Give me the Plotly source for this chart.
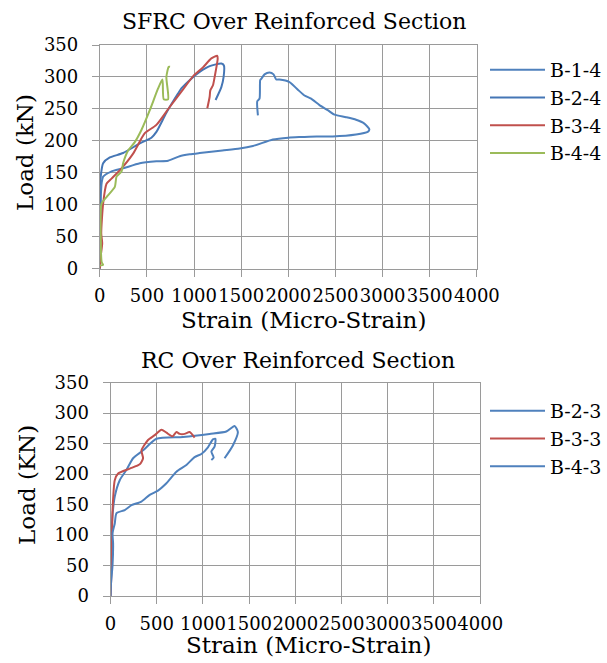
import plotly.graph_objects as go

# ---- SFRC Over Reinforced Section ----
b14_x = [0, 5, 10, 20, 35, 120, 247, 424, 600, 724, 847, 953, 1059, 1300, 1483, 1624, 1836, 2000, 2118, 2300, 2471, 2718, 2842, 2859, 2806, 2718, 2612, 2489, 2418, 2330, 2241, 2171, 2101, 2012, 1906, 1871, 1843, 1800, 1747, 1712, 1701, 1694, 1670, 1677]
b14_y = [0, 60, 110, 135, 144, 152, 157, 165, 168, 169, 176, 179, 181, 185, 188, 192, 202, 205, 206, 207, 207, 210, 214, 218, 227, 233, 237, 241, 248, 256, 266, 271, 280, 292, 296, 296, 304, 307, 304, 297, 295, 266, 262, 240]

b24_x = [0, 5, 8, 0, 35, 106, 247, 424, 547, 600, 706, 829, 865, 953, 1059, 1165, 1289, 1316, 1313, 1289, 1228]
b24_y = [0, 50, 100, 128, 165, 174, 181, 196, 205, 214, 244, 274, 282, 295, 308, 317, 321, 318, 300, 284, 264]

b34_x = [0, 10, 25, 15, 35, 71, 124, 230, 353, 477, 600, 741, 865, 988, 1094, 1183, 1246, 1250, 1218, 1200, 1172, 1165, 1140]
b34_y = [0, 20, 40, 55, 102, 133, 141, 157, 180, 212, 225, 253, 277, 301, 315, 329, 333, 328, 300, 287, 279, 269, 251]

b44_x = [0, 35, 20, 10, 18, 71, 159, 177, 230, 247, 300, 371, 441, 530, 618, 664, 678, 724, 706, 731, 745]
b44_y = [5, 6, 10, 45, 102, 112, 128, 144, 152, 165, 185, 198, 217, 248, 282, 296, 265, 265, 300, 316, 316]

# ---- RC Over Reinforced Section ----
b23_x = [0, 5, 11, 46, 100, 173, 244, 352, 497, 784, 1072, 1253, 1342, 1378, 1324, 1234]
b23_y = [0, 60, 108, 163, 190, 207, 226, 239, 258, 261, 266, 270, 279, 269, 247, 226]

b33_x = [0, 11, 22, 46, 82, 208, 316, 352, 335, 406, 478, 551, 605, 670, 713, 750, 802, 856, 910]
b33_y = [0, 43, 141, 190, 201, 209, 216, 226, 239, 256, 264, 273, 268, 262, 269, 266, 266, 269, 260]

b43_x = [0, 5, 22, 28, 22, 46, 65, 154, 227, 335, 424, 514, 605, 713, 821, 910, 983, 1054, 1108, 1135, 1126, 1091, 1116, 1091]
b43_y = [0, 20, 51, 86, 103, 119, 136, 141, 149, 155, 166, 173, 185, 204, 215, 228, 233, 244, 257, 258, 245, 237, 227, 223]

x_ticks = [0, 500, 1000, 1500, 2000, 2500, 3000, 3500, 4000]
y_ticks = [0, 50, 100, 150, 200, 250, 300, 350]

FONT = "DejaVu Serif"
GRID = "#9a9a9a"
BLUE1 = "#4F81BD"
BLUE2 = "#4576B5"
RED = "#C0504D"
GREEN = "#9BBB59"

fig = go.Figure()

def add(x, y, name, color, xa, ya, legend):
    fig.add_trace(go.Scatter(x=x, y=y, name=name, mode="lines",
                             line=dict(color=color, width=2, shape="spline", smoothing=0.6),
                             xaxis=xa, yaxis=ya, legend=legend))

add(b14_x, b14_y, "B-1-4", BLUE1, "x", "y", "legend")
add(b24_x, b24_y, "B-2-4", BLUE2, "x", "y", "legend")
add(b34_x, b34_y, "B-3-4", RED, "x", "y", "legend")
add(b44_x, b44_y, "B-4-4", GREEN, "x", "y", "legend")
add(b23_x, b23_y, "B-2-3", BLUE1, "x2", "y2", "legend2")
add(b33_x, b33_y, "B-3-3", RED, "x2", "y2", "legend2")
add(b43_x, b43_y, "B-4-3", BLUE1, "x2", "y2", "legend2")

W, H = 607, 663
TICKF = dict(family=FONT, size=18, color="#000")

def xax(domain, anchor):
    return dict(domain=domain, anchor=anchor, range=[0, 4000], tickvals=x_ticks, tickangle=0,
                automargin=False, ticklabelstandoff=4,
                showgrid=True, gridcolor=GRID, gridwidth=1, showline=True, linecolor=GRID,
                mirror=True, ticks="outside", ticklen=7, tickcolor=GRID, zeroline=False,
                tickfont=TICKF)

def yax(domain, anchor):
    return dict(domain=domain, anchor=anchor, range=[0, 350], tickvals=y_ticks,
                automargin=False, ticklabelstandoff=10,
                showgrid=True, gridcolor=GRID, gridwidth=1, showline=True, linecolor=GRID,
                mirror=True, ticks="outside", ticklen=7, tickcolor=GRID, zeroline=False,
                tickfont=TICKF)

def ann(text, x, y, size, angle=0):
    return dict(text=text, x=x / W, y=1 - y / H, xref="paper", yref="paper", showarrow=False,
                font=dict(family=FONT, size=size, color="#000"), xanchor="center", yanchor="middle",
                textangle=angle)

fig.update_layout(
    width=W, height=H, margin=dict(l=0, r=0, t=0, b=0),
    paper_bgcolor="white", plot_bgcolor="white",
    font=dict(family=FONT, color="#000"),
    xaxis=xax([100 / W, 477.7 / W], "y"),
    yaxis=yax([1 - 268.7 / H, 1 - 45 / H], "x"),
    xaxis2=xax([110.7 / W, 481 / W], "y2"),
    yaxis2=yax([1 - 596 / H, 1 - 382.7 / H], "x2"),
    legend=dict(x=486 / W, y=1 - 51 / H, xanchor="left", yanchor="top", itemwidth=55,
                font=dict(family=FONT, size=19, color="#000"), bgcolor="rgba(0,0,0,0)"),
    legend2=dict(x=486 / W, y=1 - 392 / H, xanchor="left", yanchor="top", itemwidth=55,
                 font=dict(family=FONT, size=19, color="#000"), bgcolor="rgba(0,0,0,0)"),
    showlegend=True,
    annotations=[
        ann("SFRC Over Reinforced Section", 295, 22, 22),
        ann("RC Over Reinforced Section", 298, 360, 22),
        ann("Strain (Micro-Strain)", 304, 320, 23),
        ann("Strain (Micro-Strain)", 309, 645, 23),
        ann("Load (kN)", 25, 152, 23, -90),
        ann("Load (KN)", 27, 485, 23, -90),
    ],
)

fig.write_html("out.html")
